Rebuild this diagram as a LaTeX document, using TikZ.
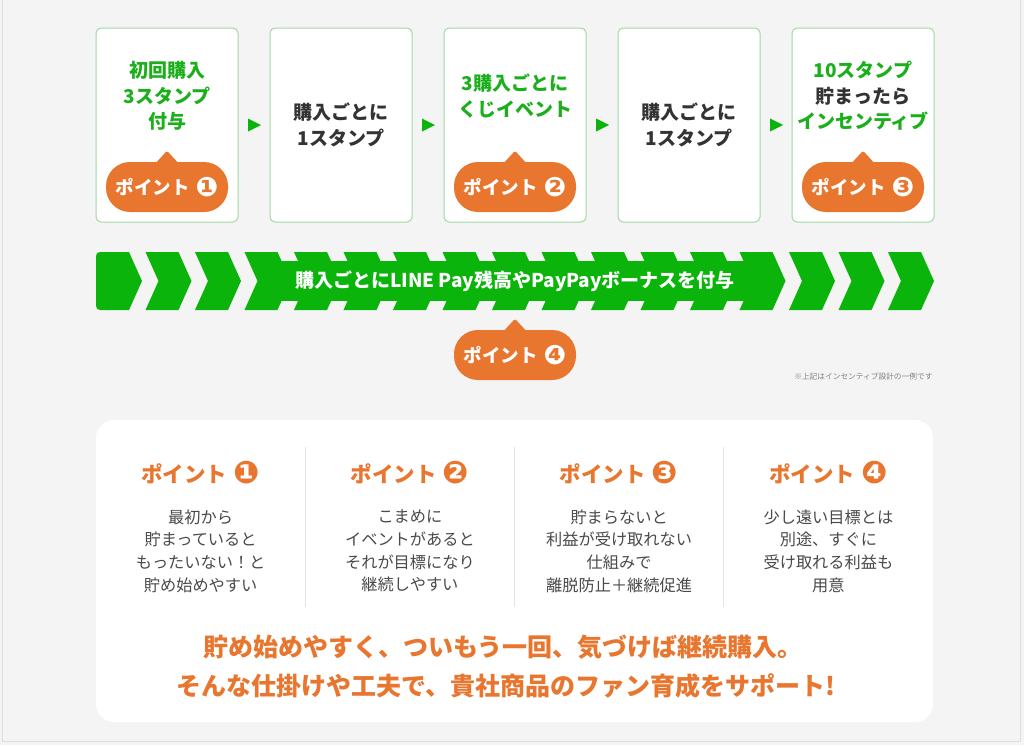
\documentclass[tikz,border=0pt]{standalone}
\usepackage{fontspec}
\setmainfont{Noto Sans CJK JP}
\newfontfamily\numfont{DejaVu Sans}
\usetikzlibrary{calc}

\definecolor{bggray}{HTML}{F4F4F4}
\definecolor{bandgreen}{HTML}{0AB40A}
\definecolor{cardgreen}{HTML}{A2D9A2}
\definecolor{textgreen}{HTML}{1CAF1C}
\definecolor{pointorange}{HTML}{E8762F}
\definecolor{darktext}{HTML}{333333}
\definecolor{bodytext}{HTML}{4A4A4A}

\newcommand{\pnum}[1]{\raisebox{-1.5pt}{\scalebox{1.45}{\numfont #1}}}

\tikzset{
  stepcard/.style={draw=cardgreen, line width=1pt, fill=white, rounded corners=5pt,
    minimum width=142pt, minimum height=194pt},
  cardtext/.style={align=center, text=darktext, font=\fontsize{19}{25.5}\selectfont\bfseries},
  badge/.style={fill=pointorange, rounded corners=24pt, minimum width=122pt,
    minimum height=50pt, text=white, inner sep=0pt, font=\fontsize{18.5}{18.5}\selectfont\bfseries},
  pointhead/.style={text=pointorange, font=\fontsize{21.5}{22}\selectfont\bfseries},
  pointbody/.style={align=center, text=bodytext, font=\fontsize{16.2}{22.7}\selectfont},
  slogan/.style={text=pointorange, font=\fontsize{25}{25}\selectfont\bfseries}
}

\begin{document}
\begin{tikzpicture}[x=1pt, y=-1pt]

% Background
\fill[bggray] (0,0) rectangle (1024,745);
\useasboundingbox (0,0) rectangle (1024,745);
\draw[gray!25, line width=0.8pt] (2,-1) -- (2,741) -- (1020,741) -- (1020,-1);

% Step cards
\foreach \n/\x in {1/167, 2/341, 3/515, 4/689, 5/863} {
  \node[stepcard] (box\n) at (\x,125) {};
}

% Card texts
\node[cardtext, text=textgreen] (t1) at (box1.center |- 0,96) {初回購入\\3スタンプ\\付与};
\node[cardtext] (t2) at (box2.center) {購入ごとに\\1スタンプ};
\node[cardtext, text=textgreen] (t3) at (box3.center |- 0,96) {3購入ごとに\\くじイベント};
\node[cardtext] (t4) at (box4.center) {購入ごとに\\1スタンプ};
\node[cardtext] (t5) at (box5.center |- 0,96) {\textcolor{textgreen}{10スタンプ}\\貯まったら\\\textcolor{textgreen}{インセンティブ}};

% Small arrows between cards
\foreach \a/\b in {box1/box2, box2/box3, box3/box4, box4/box5} {
  \coordinate (m) at ($(\a.east)!0.5!(\b.west)$);
  \fill[bandgreen] ($(m)+(-6,-6.5)$) -- ($(m)+(7,0)$) -- ($(m)+(-6,6.5)$) -- cycle;
}

% Badges on cards
\foreach \n/\num in {1/❶, 3/❷, 5/❸} {
  \node[badge] (badge\n) at (box\n.center |- 0,187) {ポイント\hspace{6pt}\pnum{\num}};
  \fill[pointorange, rounded corners=1.5pt] ($(badge\n.north)+(-12,2)$) -- ($(badge\n.north)+(0,-11)$)
    -- ($(badge\n.north)+(12,2)$) -- cycle;
}

% Chevron band
\fill[bandgreen, rounded corners=4pt] (109,252) -- (96,252) -- (96,310) -- (109,310);
\fill[bandgreen] (108,252) -- (129,252) -- (142,281) -- (129,310) -- (108,310) -- cycle;
\foreach \k in {1,...,16} {
  \fill[bandgreen] ({96+49.5*\k},252) -- ++(33,0) -- ++(13,29) -- ++(-13,29)
    -- ++(-33,0) -- ++(13,-29) -- cycle;
}
\fill[bandgreen] (257.5,261) rectangle (772.5,301);
\node[text=white, font=\fontsize{19}{19}\selectfont\bfseries] (bandtext) at (515,281)
  {購入ごとにLINE Pay残高やPayPayボーナスを付与};

% Badge under the band
\node[badge] (badge4) at (515,355) {ポイント\hspace{6pt}\pnum{❹}};
\fill[pointorange, rounded corners=1.5pt] ($(badge4.north)+(-12,2)$) -- ($(badge4.north)+(0,-11)$)
  -- ($(badge4.north)+(12,2)$) -- cycle;

% Note
\node[anchor=east, text=gray, font=\fontsize{7.7}{8}\selectfont] (note) at (936,377)
  {※上記はインセンティブ設計の一例です};

% Summary panel
\fill[white, rounded corners=18pt] (96,420) rectangle (933,722);
\foreach \x in {305.25, 514.5, 723.75} {
  \draw[gray!22, line width=1pt] (\x,447) -- (\x,607);
}

% Point headings
\foreach \n/\x/\num in {1/200.6/❶, 2/409.9/❷, 3/619.1/❸, 4/828.4/❹} {
  \node[pointhead] (head\n) at (\x,473) {ポイント\hspace{6pt}\pnum{\num}};
}

% Point texts
\node[pointbody] (body1) at (head1 |- 0,551) {最初から\\貯まっていると\\もったいない！と\\貯め始めやすい};
\node[pointbody] (body2) at (head2 |- 0,551) {こまめに\\イベントがあると\\それが目標になり\\継続しやすい};
\node[pointbody] (body3) at (head3 |- 0,551) {貯まらないと\\利益が受け取れない\\仕組みで\\離脱防止＋継続促進};
\node[pointbody] (body4) at (head4 |- 0,551) {少し遠い目標とは\\別途、すぐに\\受け取れる利益も\\用意};

% Slogan
\node[slogan] (slogan1) at (503,647) {貯め始めやすく、ついもう一回、気づけば継続購入。};
\node[slogan] (slogan2) at (506,686) {そんな仕掛けや工夫で、貴社商品のファン育成をサポート!};

\end{tikzpicture}
\end{document}
